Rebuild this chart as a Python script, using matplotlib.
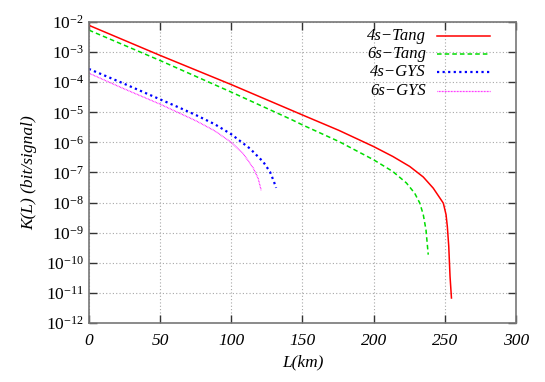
import matplotlib.pyplot as plt
import numpy as np

plt.rcParams["font.family"] = ["Liberation Serif", "DejaVu Serif"]
plt.rcParams["mathtext.fontset"] = "custom"
plt.rcParams["mathtext.rm"] = "Liberation Serif"
plt.rcParams["mathtext.it"] = "Liberation Serif:italic"

# distance (km) and log10 of key rate
tang4_L = [0, 25, 50, 100, 142.6, 150, 175.5, 200, 213.5, 225.3, 234.8, 241.8, 246.5,
           248.9, 250.8, 251.7, 252.7, 253.6, 254.6]
tang4_logK = [-2.11, -2.61, -3.11, -4.08, -4.94, -5.09, -5.60, -6.14, -6.47, -6.80, -7.15,
              -7.52, -7.85, -8.02, -8.40, -8.79, -9.45, -10.45, -11.17]

tang6_L = [0, 50, 100, 142.6, 150, 175.5, 200, 213.5, 223, 228.8, 232.4, 234.8, 236.7, 238.3]
tang6_logK = [-2.27, -3.28, -4.33, -5.25, -5.42, -5.97, -6.58, -6.97, -7.35, -7.69, -8.02,
              -8.40, -8.90, -9.73]

gys4_L = [0, 23.7, 50, 63.7, 75.5, 88.5, 100, 113, 122.5, 127.2, 129.6, 131.5]
gys4_logK = [-3.56, -4.03, -4.57, -4.85, -5.10, -5.40, -5.73, -6.20, -6.65, -6.98, -7.26, -7.51]

gys6_L = [0, 23.7, 50, 75.5, 88.5, 100, 108.3, 115.4, 118.9, 121]
gys6_logK = [-3.70, -4.20, -4.73, -5.29, -5.62, -6.00, -6.37, -6.85, -7.20, -7.59]

labels = ["4s\u2212Tang", "6s\u2212Tang", "4s\u2212GYS", "6s\u2212GYS"]
colors = ["#ff0000", "#00dd00", "#0000ff", "#ff00ff"]
styles = ["-", (0, (3, 2)), (0, (1, 1.5)), (0, (0.6, 0.6))]
widths = [1.1, 1.1, 1.6, 0.9]

fig = plt.figure(figsize=(5.45, 3.82), dpi=100)
ax = fig.add_axes([0.163, 0.1545, 0.784, 0.788])

series = [(tang4_L, tang4_logK), (tang6_L, tang6_logK),
          (gys4_L, gys4_logK), (gys6_L, gys6_logK)]
for (L, lk), c, s, w in zip(series, colors, styles, widths):
    ax.plot(L, 10.0 ** np.array(lk), color=c, linestyle=s, linewidth=w)

ax.set_yscale("log")
ax.set_xlim(0, 300)
ax.set_ylim(1e-12, 1e-2)
xt = list(range(0, 301, 50))
ax.set_xticks(xt)
ax.set_xticklabels([str(v) for v in xt], fontstyle="italic")
yt = [10.0 ** e for e in range(-12, -1)]
ax.set_yticks(yt)
ax.set_yticklabels([f"$10^{{{e}}}$" for e in range(-12, -1)])
ax.yaxis.set_minor_locator(plt.NullLocator())
ax.tick_params(direction="in", top=True, right=True, labelsize=12.5,
               length=6, width=1, colors="#333333", labelcolor="black")
ax.tick_params(axis="x", pad=7)
ax.grid(True, color="#a8a8a8", linestyle=(0, (1, 2)), linewidth=0.8)
for sp in ax.spines.values():
    sp.set_color("#777777")
    sp.set_linewidth(1.2)

ax.set_xlabel("L(km)", fontsize=12.5, style="italic", labelpad=4)
ax.set_ylabel("K(L) (bit/signal)", fontsize=12.5, style="italic", labelpad=6)

# gnuplot-style key: right-aligned text, sample line to the right
rows = [0.955, 0.894, 0.833, 0.772]
for lab, c, s, w, y in zip(labels, colors, styles, widths, rows):
    ax.text(0.789, y, lab, transform=ax.transAxes, ha="right", va="center",
            fontsize=12, style="italic")
    ax.plot([0.814, 0.939], [y, y], transform=ax.transAxes, color=c,
            linestyle=s, linewidth=w)

fig.savefig("out.png", dpi=100)
